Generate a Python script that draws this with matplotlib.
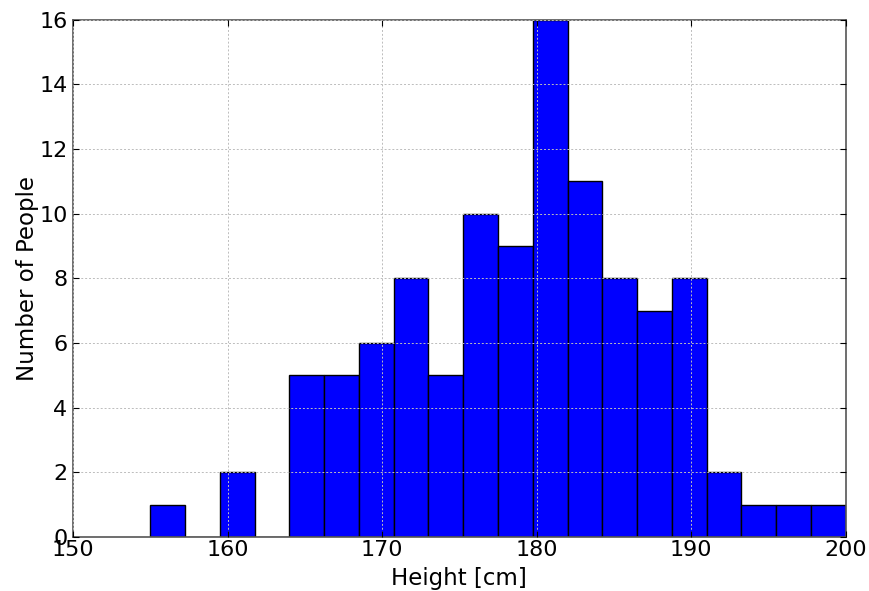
import matplotlib.pyplot as plt
import numpy as np

# histogram bin edges and counts
bin_edges = [155, 157.25, 159.5, 161.75, 164, 166.25, 168.5, 170.75, 173, 175.25,
             177.5, 179.75, 182, 184.25, 186.5, 188.75, 191, 193.25, 195.5, 197.75, 200]
counts = [1, 0, 2, 0, 5, 5, 6, 8, 5, 10, 9, 16, 11, 8, 7, 8, 2, 1, 1, 1]

x_ticks = [150, 160, 170, 180, 190, 200]
y_ticks = [0, 2, 4, 6, 8, 10, 12, 14, 16]

fig = plt.figure(figsize=(8.7, 5.91), dpi=100)
ax = fig.add_axes([0.084, 0.0914, 0.888, 0.875])

edges = np.array(bin_edges)
ax.bar(edges[:-1], counts, width=np.diff(edges), align='edge',
       color='#0000ff', edgecolor='black', linewidth=1.0)

ax.set_xlim(150, 200)
ax.set_ylim(0, 16)
ax.set_xticks(x_ticks)
ax.set_yticks(y_ticks)
ax.tick_params(direction='in', length=4, labelsize=16, top=True, right=True)
ax.tick_params(axis='x', pad=2)
ax.tick_params(axis='y', pad=4)
ax.set_axisbelow(False)
ax.grid(True, color='#bcbcbc', linestyle=(0, (2, 2)), linewidth=0.7)
for s in ax.spines.values():
    s.set_color('#555555')
    s.set_linewidth(1.2)

ax.set_xlabel('Height [cm]', fontsize=16.5, labelpad=5)
ax.set_ylabel('Number of People', fontsize=16.5, labelpad=0)

plt.savefig('out.png', dpi=100)
